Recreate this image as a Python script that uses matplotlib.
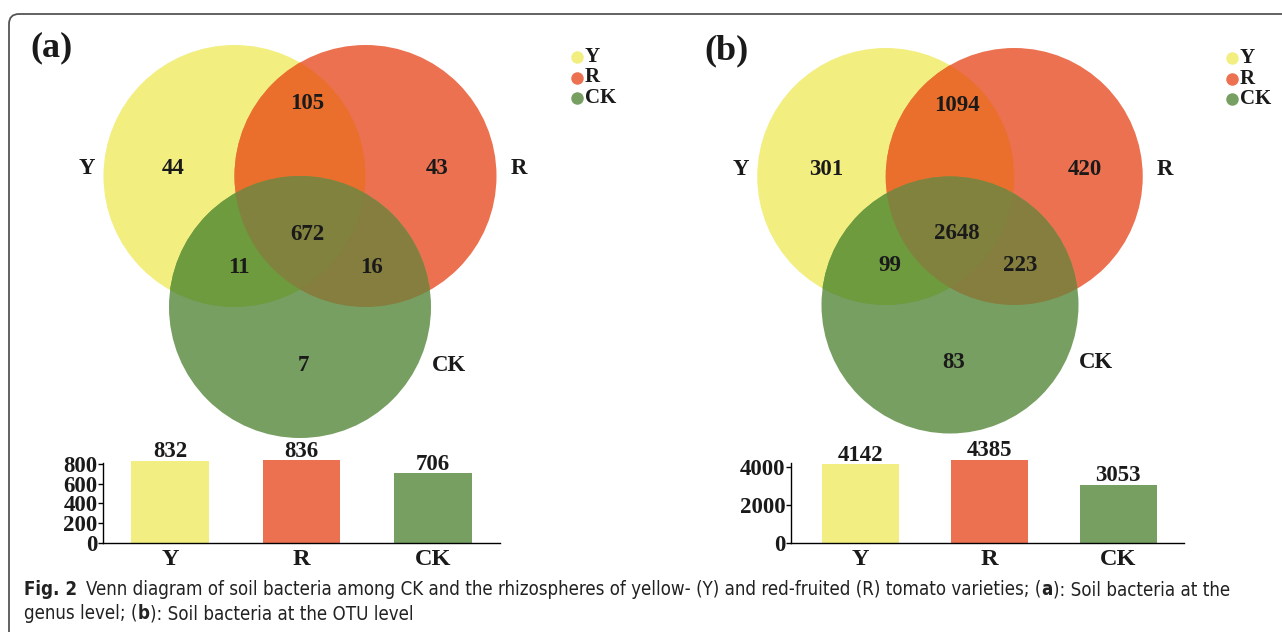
import matplotlib
matplotlib.use("Agg")
import matplotlib.pyplot as plt
from matplotlib.patches import Circle, FancyBboxPatch

# ---- data ----
set_names = ["Y", "R", "CK"]
# region order: Y only, R only, CK only, Y&R, Y&CK, R&CK, Y&R&CK
region_keys = ["Y", "R", "CK", "YR", "YC", "RC", "YRC"]
genus_regions = [44, 43, 7, 105, 11, 16, 672]
otu_regions = [301, 420, 83, 1094, 99, 223, 2648]
genus_totals = [832, 836, 706]
otu_totals = [4142, 4385, 3053]
genus_ticks = [0, 200, 400, 600, 800]
otu_ticks = [0, 2000, 4000]

# ---- style ----
col_y = "#F2EE80"
col_r = "#EC7150"
col_ck = "#789F62"
col_yr = "#EA6F2C"
col_yc = "#6E9B3D"
col_rc = "#857E3E"
bar_colors = ["#F2EE82", "#EC7150", "#779F62"]
serif = "Liberation Serif"
txt_col = "#1a1a1a"

W, H = 1282, 632
fig = plt.figure(figsize=(W / 100, H / 100), dpi=100)
fig.patch.set_facecolor("white")

ov = fig.add_axes([0, 0, 1, 1])
ov.set_xlim(0, W)
ov.set_ylim(H, 0)
ov.axis("off")

# rounded frame around the figure
ov.add_patch(FancyBboxPatch((9, 14), 1400, 700,
                            boxstyle="round,pad=0,rounding_size=10",
                            fill=False, ec="#555555", lw=1.3))

# label positions in units of circle radius, relative to the Y/R midpoint
region_off = {"Y": (-0.965, -0.055), "R": (1.05, -0.055), "CK": (0.025, 1.445),
              "YR": (0.055, -0.555), "YC": (-0.47, 0.695), "RC": (0.545, 0.695),
              "YRC": (0.055, 0.445)}
name_off = {"Y": (-1.63, -0.055), "R": (1.67, -0.055), "CK": (1.135, 1.445)}


def venn(mx, my, r, values):
    cy_ = (mx - 0.5 * r, my)
    cr_ = (mx + 0.5 * r, my)
    cc_ = (mx, my + r)
    def circ(c, col, **kw):
        p = Circle(c, r, fc=col, ec="none", lw=0, **kw)
        ov.add_patch(p)
        return p
    py = circ(cy_, col_y)
    pr = circ(cr_, col_r)
    circ(cc_, col_ck)
    p = circ(cr_, col_yr)
    p.set_clip_path(py)
    p = circ(cc_, col_yc)
    p.set_clip_path(py)
    p = circ(cc_, col_rc)
    p.set_clip_path(pr)
    p = circ(cc_, col_yc, alpha=0.15)
    p.set_clip_path(py)
    for k, v in zip(region_keys, values):
        dx, dy = region_off[k]
        ov.text(mx + dx * r, my + dy * r, str(v), ha="center", va="center",
                family=serif, weight="bold", fontsize=16.5, color=txt_col)
    for k in set_names:
        dx, dy = name_off[k]
        ov.text(mx + dx * r, my + dy * r, k, ha="center", va="center",
                family=serif, weight="bold", fontsize=16.5, color=txt_col)


venn(300, 176, 131, genus_regions)
venn(950, 176.5, 128.5, otu_regions)

ov.text(52, 48, "(a)", ha="center", va="center", family=serif,
        weight="bold", fontsize=26, color=txt_col)
ov.text(727, 51, "(b)", ha="center", va="center", family=serif,
        weight="bold", fontsize=26, color=txt_col)

# legends
for lx, ly in [(577, 57), (1232, 58)]:
    for i, (name, col) in enumerate(zip(set_names, [col_y, col_r, col_ck])):
        yy = ly + i * 20.5
        ov.plot([lx], [yy], "o", ms=9, color=col, mec="none")
        ov.text(lx + 8, yy, name, ha="left", va="center", family=serif,
                weight="bold", fontsize=15, color=txt_col)


def px_axes(x0, y0, x1, y1):
    return fig.add_axes([x0 / W, 1 - y1 / H, (x1 - x0) / W, (y1 - y0) / H])


def bars(box, totals, ticks, ymax, xlim, width):
    ax = px_axes(*box)
    ax.patch.set_alpha(0)
    xs = list(range(len(totals)))
    ax.bar(xs, totals, width=width, color=bar_colors, clip_on=False)
    for x, v in zip(xs, totals):
        ax.annotate(str(v), (x, v), xytext=(0, -1), textcoords="offset points",
                    ha="center", va="bottom", family=serif, weight="bold",
                    fontsize=16.5, color=txt_col, annotation_clip=False)
    ax.set_xlim(*xlim)
    ax.set_ylim(0, ymax)
    ax.set_yticks(ticks)
    ax.set_xticks(xs)
    ax.set_xticklabels(set_names)
    for s in ["top", "right"]:
        ax.spines[s].set_visible(False)
    for s in ["left", "bottom"]:
        ax.spines[s].set_linewidth(1.0)
    ax.tick_params(axis="x", length=0, pad=4)
    ax.tick_params(axis="y", length=3.5, width=1.0, pad=0.5)
    for lab in ax.get_xticklabels():
        lab.set_fontsize(17.5)
    for lab in ax.get_yticklabels():
        lab.set_fontsize(16.5)
    for lab in ax.get_xticklabels() + ax.get_yticklabels():
        lab.set_family(serif)
        lab.set_weight("bold")
        lab.set_color(txt_col)
    return ax


bars((103, 463, 500, 543), genus_totals, genus_ticks, 810, (-0.51, 2.51), 0.59)
bars((791, 463, 1184, 543), otu_totals, otu_ticks, 4210, (-0.54, 2.51), 0.6)

# caption, drawn in pieces so some parts can be bold
cap_family = ["DejaVu Sans"]
line1 = [("Fig. 2", "bold"),
         ("Venn diagram of soil bacteria among CK and the rhizospheres of yellow- (Y) "
          "and red-fruited (R) tomato varieties; (", "normal"),
         ("a", "bold"), ("): Soil bacteria at the", "normal")]
line2 = [("genus level; (", "normal"), ("b", "bold"),
         ("): Soil bacteria at the OTU level", "normal")]

renderer = fig.canvas.get_renderer()


def draw_line(pieces, x0, y, size, gaps):
    x = x0
    arts = []
    for (s, w), g in zip(pieces, gaps):
        t = ov.text(x, y, s, ha="left", va="baseline", family=cap_family,
                    stretch="condensed", weight=w, fontsize=size,
                    color="#222222")
        bb = t.get_window_extent(renderer)
        x += bb.width + g
        arts.append(t)
    return x - x0, arts


base = 11
w1, arts = draw_line(line1, 24, 595, base, [9, 0, 0, 0])
for a in arts:
    a.remove()
size = base * 1208 / w1
draw_line(line1, 24, 595, size, [9, 0, 0, 0])
draw_line(line2, 24, 619, size, [0, 0, 0])

fig.savefig("out.png", dpi=100)
